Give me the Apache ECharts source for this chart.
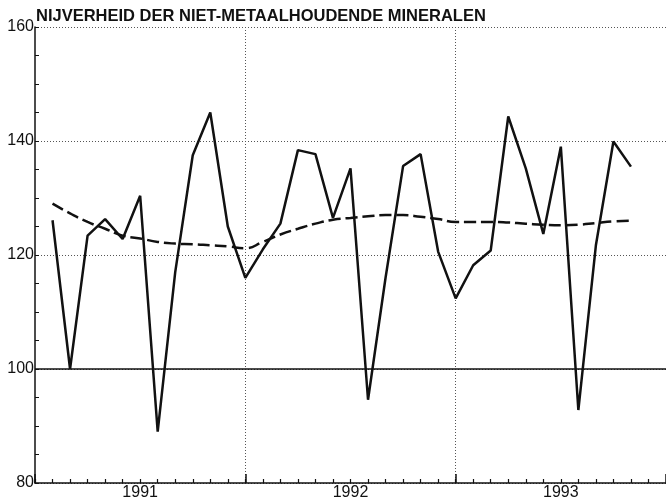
<!DOCTYPE html>
<html>
<head>
<meta charset="utf-8">
<script src="https://cdn.jsdelivr.net/npm/echarts@6/dist/echarts.min.js"></script>
<style>
  html, body { margin: 0; padding: 0; background: #fff; }
  #chart { width: 666px; height: 503px; }
</style>
</head>
<body>
<div id="chart"></div>
<script>
// maanden jan 1991 .. jan 1994 (37 posities)
var years = [1991, 1992, 1993, 1994];
var months = [];
for (var y = 0; y < years.length; y++) {
  for (var m = 1; m <= 12; m++) {
    if (years[y] === 1994 && m > 1) break;
    months.push(years[y] + "-" + (m < 10 ? "0" + m : m));
  }
}

// index (solid)
var indexValues = [
  null, 126.1, 100, 123.4, 126.3, 122.8, 130.4, 89, 117, 137.5, 145, 125,
  116, 121, 125.5, 138.4, 137.7, 126.5, 135.2, 94.6, 116, 135.6, 137.7, 120.6,
  112.4, 118.2, 120.8, 144.3, 135.2, 123.7, 139, 92.8, 121.7, 139.9, 135.5, null,
  null
];

// trend (dashed)
var trendValues = [
  null, 129, 127.3, 125.8, 124.6, 123.4, 122.9, 122.3, 122, 121.9, 121.7, 121.5,
  121.2, 122.3, 123.6, 124.6, 125.5, 126.2, 126.5, 126.8, 127, 127, 126.7, 126.3,
  125.8, 125.8, 125.8, 125.7, 125.5, 125.3, 125.2, 125.3, 125.6, 125.9, 126, null,
  null
];

var yTicks = [80, 100, 120, 140, 160];
var baseline = 100;
var titleText = "NIJVERHEID DER NIET-METAALHOUDENDE MINERALEN";

var ink = "#111";
var chart = echarts.init(document.getElementById("chart"));

var option = {
  animation: false,
  backgroundColor: "#fff",
  textStyle: { fontFamily: "Liberation Sans, Arial, sans-serif" },
  title: {
    text: titleText,
    left: 36,
    top: 8,
    padding: 0,
    textStyle: { fontSize: 16.5, fontWeight: "bold", color: ink, fontFamily: "Liberation Sans" }
  },
  grid: { left: 35, right: -3, top: 27, bottom: 20, containLabel: false },
  xAxis: [
    {
      type: "category",
      data: months,
      boundaryGap: false,
      position: "bottom",
      axisLine: { lineStyle: { color: ink, width: 1.5 } },
      axisTick: { inside: true, length: 4, interval: 0, lineStyle: { color: ink, width: 1.2 } },
      axisLabel: {
        interval: function (i) { return i % 12 === 6; },
        formatter: function (v) { return v.slice(0, 4); },
        fontSize: 16,
        color: ink,
        margin: 2
      },
      splitLine: {
        show: true,
        interval: function (i) { return i % 12 === 0 && i > 0 && i < 36; },
        lineStyle: { color: "#555", type: [1, 2], width: 1 }
      }
    },
    {
      // lange streepjes op de jaargrenzen
      type: "category",
      data: months,
      boundaryGap: false,
      position: "bottom",
      axisLine: { show: false },
      axisTick: {
        inside: true, length: 9,
        interval: function (i) { return i % 12 === 0; },
        lineStyle: { color: ink, width: 1.5 }
      },
      axisLabel: { show: false },
      splitLine: { show: false }
    }
  ],
  yAxis: {
    type: "value",
    min: yTicks[0],
    max: yTicks[yTicks.length - 1],
    interval: 20,
    axisLine: { show: true, lineStyle: { color: ink, width: 1.5 } },
    axisTick: { show: true, inside: true, length: 4, lineStyle: { color: ink } },
    minorTick: { show: true, splitNumber: 4, length: 4, lineStyle: { color: ink } },
    axisLabel: { fontSize: 16, color: ink, margin: 1 },
    splitLine: { show: true, lineStyle: { color: "#555", type: [1, 2], width: 1 } }
  },
  series: [
    {
      name: "index",
      type: "line",
      data: indexValues,
      symbol: "none",
      smooth: false,
      connectNulls: false,
      lineStyle: { color: ink, width: 2.5 },
      markLine: {
        silent: true,
        symbol: "none",
        label: { show: false },
        lineStyle: { color: ink, type: "solid", width: 1.5 },
        data: [{ yAxis: baseline }]
      },
      z: 3
    },
    {
      name: "trend",
      type: "line",
      data: trendValues,
      symbol: "none",
      smooth: true,
      lineStyle: { color: ink, width: 2.5, type: [12, 5] },
      z: 2
    }
  ]
};

chart.setOption(option);
</script>
</body>
</html>
